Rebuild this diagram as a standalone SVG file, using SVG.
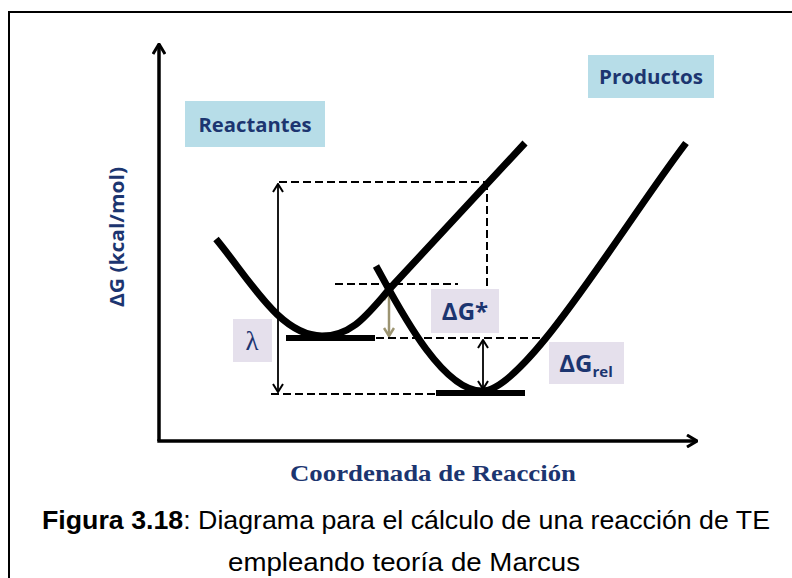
<svg xmlns="http://www.w3.org/2000/svg" width="792" height="578" viewBox="0 0 792 578">
<defs>
<style>
.frame{fill:none;stroke:#000;stroke-width:2}
.axis{fill:none;stroke:#000;stroke-width:3.5}
.curve{fill:none;stroke:#000;stroke-width:7;stroke-linecap:butt}
.level{fill:none;stroke:#000;stroke-width:6}
.dash{fill:none;stroke:#000;stroke-width:2;stroke-dasharray:8 4}
.thin{fill:none;stroke:#000;stroke-width:1.8}
.olive{fill:none;stroke:#9c9471;stroke-width:2.5}
.blue{fill:#b7dde8}
.lav{fill:#e5e0ec}
.lbl{font-family:"Open Sans","Liberation Sans",sans-serif;font-weight:bold;fill:#1c3570}
.cap{font-family:"Liberation Sans","Open Sans",sans-serif;font-size:26px;fill:#000}
</style>
<marker id="axhead" viewBox="0 0 12 14" refX="11" refY="7" markerWidth="12" markerHeight="14" markerUnits="userSpaceOnUse" orient="auto">
<path d="M1,1 L11,7 L1,13" fill="none" stroke="#000" stroke-width="3"/>
</marker>
<marker id="head" viewBox="0 0 10 12" refX="9" refY="6" markerWidth="10" markerHeight="12" markerUnits="userSpaceOnUse" orient="auto-start-reverse">
<path d="M1,1 L9,6 L1,11" fill="none" stroke="#000" stroke-width="2"/>
</marker>
<marker id="headOl" viewBox="0 0 10 12" refX="9" refY="6" markerWidth="10" markerHeight="12" markerUnits="userSpaceOnUse" orient="auto-start-reverse">
<path d="M1,1 L9,6 L1,11" fill="none" stroke="#9c9471" stroke-width="2.5"/>
</marker>
</defs>
<rect width="792" height="578" fill="#fff"/>
<path class="frame" d="M9,578 L9,12 L792,12"/>

<g id="axes">
<path class="axis" d="M159,441 L159,44" marker-end="url(#axhead)"/>
<path class="axis" d="M157.3,441 L697,441" marker-end="url(#axhead)"/>
</g>

<g id="connectors">
<path class="dash" d="M279,182 L488,182"/>
<path class="dash" d="M487,182 L487,289"/>
<path class="dash" d="M335,284 L458,284"/>
<path class="dash" d="M376,338 L546,338"/>
<path class="dash" d="M271,394 L437,394"/>
<path class="thin" d="M278,392 L278,184" marker-start="url(#head)" marker-end="url(#head)"/>
<path class="olive" d="M389,336 L389,292" marker-start="url(#headOl)" marker-end="url(#headOl)"/>
<path class="thin" d="M483,389 L483,340" marker-start="url(#head)" marker-end="url(#head)"/>
</g>

<g id="reactant-curve">
<path class="curve" d="M216,239 C250,280 280,336 322,336 C355,336 370,310 395,283 L525,143"/>
<path class="level" d="M286,338 L375,338"/>
</g>

<g id="product-curve">
<path class="curve" d="M376,266 C395,300 440,391 482,391 C525,391 620,230 686,143"/>
<path class="level" d="M436,393 L525,393"/>
</g>

<g id="reactantes">
<rect class="blue" x="185" y="101" width="140" height="46"/>
<text class="lbl" x="255" y="132" font-size="20" text-anchor="middle" textLength="113" lengthAdjust="spacingAndGlyphs">Reactantes</text>
</g>

<g id="productos">
<rect class="blue" x="588" y="55" width="126" height="43"/>
<text class="lbl" x="651" y="84" font-size="20" text-anchor="middle" textLength="104" lengthAdjust="spacingAndGlyphs">Productos</text>
</g>

<g id="lambda">
<rect class="lav" x="233" y="319" width="39" height="43"/>
<text x="252" y="350" font-family="Liberation Serif,serif" font-size="27" fill="#1c3570" text-anchor="middle">λ</text>
</g>

<g id="dg-star">
<rect class="lav" x="431" y="289" width="68" height="44"/>
<text class="lbl" x="465" y="320" font-size="24" text-anchor="middle">ΔG*</text>
</g>

<g id="dg-rel">
<rect class="lav" x="549" y="342" width="75" height="42"/>
<text class="lbl" x="586" y="372" font-size="24" text-anchor="middle">ΔG<tspan font-size="15" dy="5">rel</tspan></text>
</g>

<g id="y-label">
<text class="lbl" transform="translate(124,237) rotate(-90)" font-size="19" text-anchor="middle" textLength="140" lengthAdjust="spacingAndGlyphs">ΔG (kcal/mol)</text>
</g>

<g id="x-label">
<text x="433" y="481" font-family="Liberation Serif,serif" font-weight="bold" font-size="23" fill="#1c3570" text-anchor="middle" textLength="286" lengthAdjust="spacingAndGlyphs">Coordenada de Reacción</text>
</g>

<g id="caption">
<text class="cap" x="42" y="529" textLength="728" lengthAdjust="spacingAndGlyphs"><tspan font-weight="bold">Figura 3.18</tspan>: Diagrama para el cálculo de una reacción de TE</text>
<text class="cap" x="228" y="571" textLength="352" lengthAdjust="spacingAndGlyphs">empleando teoría de Marcus</text>
</g>
</svg>
